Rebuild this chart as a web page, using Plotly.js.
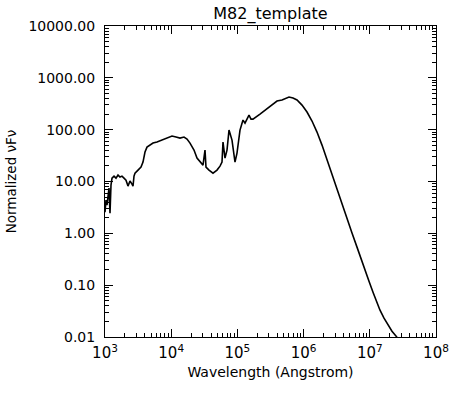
<!DOCTYPE html>
<html>
<head>
<meta charset="utf-8">
<script src="https://cdn.plot.ly/plotly-3.0.1.min.js"></script>
<style>html,body{margin:0;padding:0;background:#fff;}#chart{width:472px;height:394px;}</style>
</head>
<body>
<div id="chart"></div>
<script>
const wavelength = [1000, 1035, 1072, 1110, 1149, 1190, 1232, 1276, 1368, 1466, 1572, 1685, 1806, 1936, 2076, 2225, 2386, 2558, 2649, 2742, 2839,
  3152, 3499, 3750, 4020, 4309, 4784, 5311, 6102, 7261, 8642, 10283, 11818, 13584, 15612, 17330, 19231, 22103, 24532, 27227, 30226,
  32397, 33543, 37239, 42800, 49182, 54601, 58541, 60610, 64960, 69660, 74680, 82890, 91990, 98630, 109470, 121500, 130250, 139640,
  149700, 160500, 172000, 219500, 280000, 333200, 396500, 471700, 542200, 601800, 691700, 795100, 946000, 1.126e6, 1.340e6, 1.594e6,
  1.897e6, 2.257e6, 2.685e6, 3.195e6, 3.803e6, 4.524e6, 5.384e6, 6.406e6, 7.364e6, 8.463e6, 9.725e6, 1.118e7, 1.285e7, 1.426e7,
  1.639e7, 1.883e7, 2.164e7, 2.576e7, 2.859e7];
const flux = [2.56, 4.37, 3.50, 6.24, 7.46, 2.45, 8.53, 11.6, 12.7, 11.6, 13.3, 12.2, 12.7, 11.6, 10.6, 8.15, 10.2, 8.91, 8.15, 12.7, 14.5,
  16.6, 19.0, 23.7, 37.0, 46.1, 50.4, 55.1, 57.6, 63.0, 68.8, 75.2, 71.9, 68.8, 71.9, 65.9, 55.1, 40.4, 28.3, 23.7, 20.7,
  40.4, 19.0, 16.6, 14.5, 16.6, 19.8, 23.7, 57.6, 28.3, 40.4, 98.2, 63.0, 23.7, 35.3, 98.2, 153, 134, 167,
  191, 160, 160, 200, 250, 298, 356, 373, 407, 426, 407, 373, 298, 219, 147, 89.9,
  50.4, 25.9, 13.3, 6.82, 3.50, 1.88, 1.01, 0.542, 0.318, 0.195, 0.119, 0.0733, 0.0470, 0.0329,
  0.0231, 0.0169, 0.0129, 0.0099, 0.0087];

const xTickVals = [1e3, 1e4, 1e5, 1e6, 1e7, 1e8];
const xTickText = ['10<sup>3</sup>', '10<sup>4</sup>', '10<sup>5</sup>', '10<sup>6</sup>', '10<sup>7</sup>', '10<sup>8</sup>'];
const yTickVals = [0.01, 0.1, 1, 10, 100, 1000, 10000];
const yTickText = ['0.01', '0.10', '1.00', '10.00', '100.00', '1000.00', '10000.00'];

function minorVals(lo, hi) {
  const v = [];
  for (let e = lo; e < hi; e++) for (let m = 2; m <= 9; m++) v.push(m * Math.pow(10, e));
  return v;
}

const fam = 'DejaVu Sans, Liberation Sans, sans-serif';

Plotly.newPlot('chart', [{
  x: wavelength, y: flux, type: 'scatter', mode: 'lines',
  line: {color: '#000', width: 1.6}, hoverinfo: 'skip'
}], {
  width: 472, height: 394,
  margin: {l: 105, r: 36, t: 26, b: 57},
  paper_bgcolor: '#fff', plot_bgcolor: '#fff',
  showlegend: false,
  font: {family: fam, size: 13, color: '#000'},
  title: {text: 'M82_template', font: {family: fam, size: 16, color: '#000'}, x: 0.573, xanchor: 'center', y: 0.967, yanchor: 'middle'},
  xaxis: {
    type: 'log', range: [3, 8], showgrid: false, zeroline: false,
    showline: true, linecolor: '#000', linewidth: 1, mirror: 'ticks',
    ticks: 'inside', ticklen: 8, tickcolor: '#000', tickwidth: 1,
    tickmode: 'array', tickvals: xTickVals, ticktext: xTickText,
    tickfont: {family: fam, size: 15, color: '#000'}, ticklabelstandoff: 2,
    minor: {ticks: 'inside', ticklen: 4, tickcolor: '#000', tickwidth: 1, tickmode: 'array', tickvals: minorVals(3, 8)},
    title: {text: 'Wavelength (Angstrom)', font: {family: fam, size: 14, color: '#000'}, standoff: 6}
  },
  yaxis: {
    type: 'log', range: [-2, 4], showgrid: false, zeroline: false,
    showline: true, linecolor: '#000', linewidth: 1, mirror: 'ticks',
    ticks: 'inside', ticklen: 8, tickcolor: '#000', tickwidth: 1,
    tickmode: 'array', tickvals: yTickVals, ticktext: yTickText,
    tickfont: {family: fam, size: 14, color: '#000'}, ticklabelstandoff: 6,
    minor: {ticks: 'inside', ticklen: 4, tickcolor: '#000', tickwidth: 1, tickmode: 'array', tickvals: minorVals(-2, 4)},
    title: {text: 'Normalized νFν', font: {family: fam, size: 13.5, color: '#000'}, standoff: 8}
  }
}, {staticPlot: true, displayModeBar: false});
</script>
</body>
</html>
